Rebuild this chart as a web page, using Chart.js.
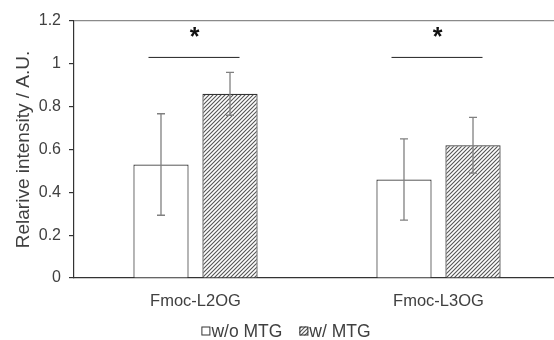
<!DOCTYPE html>
<html>
<head>
<meta charset="utf-8">
<script src="https://cdn.jsdelivr.net/npm/chart.js@4.4.1/dist/chart.umd.min.js"></script>
<style>
    html, body { margin: 0; padding: 0; background: #fff; }
    #wrap { width: 554px; height: 340px; overflow: hidden; }
</style>
</head>
<body>
<div id="wrap"><canvas id="intensityChart" width="560" height="340"></canvas></div>
<script>
// data
const categories = ['Fmoc-L2QG', 'Fmoc-L3QG'];
const withoutMtg = [0.53, 0.46];
const withoutMtgErr = [0.237, 0.19];
const withMtg = [0.86, 0.62];
const withMtgErr = [0.10, 0.13];
const yTicks = [0, 0.2, 0.4, 0.6, 0.8, 1, 1.2];
const sigLevel = [1.03, 1.03];
const sigMarks = ['*', '*'];

document.addEventListener('DOMContentLoaded', function () {
    const textColor = '#404040';
    const fontFamily = '"Liberation Sans", Arial, sans-serif';

    // diagonal hatch for the "w/ MTG" bars
    function makeHatch() {
        const size = 4;
        const c = document.createElement('canvas');
        c.width = size;
        c.height = size;
        const g = c.getContext('2d');
        g.fillStyle = '#ffffff';
        g.fillRect(0, 0, size, size);
        g.strokeStyle = '#555555';
        g.lineWidth = 1.1;
        g.beginPath();
        g.moveTo(-1, size + 1);
        g.lineTo(size + 1, -1);
        g.moveTo(-1, 1);
        g.lineTo(1, -1);
        g.moveTo(size - 1, size + 1);
        g.lineTo(size + 1, size - 1);
        g.stroke();
        return g.createPattern(c, 'repeat');
    }

    const hatch = makeHatch();

    // error bars drawn from the err arrays through the y scale
    const errorBars = {
        id: 'errorBars',
        afterDatasetsDraw(chart) {
            const ctx = chart.ctx;
            const y = chart.scales.y;
            ctx.save();
            ctx.strokeStyle = '#808080';
            ctx.lineWidth = 1.3;
            chart.data.datasets.forEach(function (ds, di) {
                const meta = chart.getDatasetMeta(di);
                meta.data.forEach(function (bar, i) {
                    const v = ds.data[i];
                    const e = ds.errors[i];
                    const top = y.getPixelForValue(v + e);
                    const bot = y.getPixelForValue(v - e);
                    ctx.beginPath();
                    ctx.moveTo(bar.x, top);
                    ctx.lineTo(bar.x, bot);
                    ctx.moveTo(bar.x - 4, top);
                    ctx.lineTo(bar.x + 4, top);
                    ctx.moveTo(bar.x - 4, bot);
                    ctx.lineTo(bar.x + 4, bot);
                    ctx.stroke();
                });
            });
            ctx.restore();
        }
    };

    // significance lines and asterisks over each group
    const significance = {
        id: 'significance',
        afterDatasetsDraw(chart) {
            const ctx = chart.ctx;
            const x = chart.scales.x;
            const y = chart.scales.y;
            ctx.save();
            categories.forEach(function (cat, i) {
                const cx = x.getPixelForValue(i);
                const ly = y.getPixelForValue(sigLevel[i]);
                ctx.strokeStyle = '#222';
                ctx.lineWidth = 1;
                ctx.beginPath();
                ctx.moveTo(cx - 47, ly);
                ctx.lineTo(cx + 44, ly);
                ctx.stroke();
                ctx.fillStyle = '#111';
                ctx.font = 'bold 25px ' + fontFamily;
                ctx.textAlign = 'center';
                ctx.textBaseline = 'middle';
                ctx.fillText(sigMarks[i], cx - 1, ly - 19);
            });
            ctx.restore();
        }
    };

    // compact legend under the axis: small box right against its text
    const compactLegend = {
        id: 'compactLegend',
        afterDraw(chart) {
            const ctx = chart.ctx;
            const box = 9;
            const gap = 17;
            const yMid = 331;
            ctx.save();
            ctx.font = '17.5px ' + fontFamily;
            const items = chart.data.datasets.map(function (ds) {
                return { ds: ds, w: box + 1 + ctx.measureText(ds.label).width };
            });
            const total = items.reduce(function (s, it) { return s + it.w; }, 0) + gap * (items.length - 1);
            let x = chart.width / 2 + 6 - total / 2;
            items.forEach(function (it) {
                ctx.fillStyle = it.ds.backgroundColor;
                ctx.fillRect(x, yMid - box / 2, box, box);
                ctx.strokeStyle = '#333333';
                ctx.lineWidth = 1;
                ctx.strokeRect(x + 0.5, yMid - box / 2 + 0.5, box - 1, box - 1);
                ctx.fillStyle = textColor;
                ctx.textAlign = 'left';
                ctx.textBaseline = 'middle';
                ctx.fillText(it.ds.label, x + box + 1, yMid + 1);
                x += it.w + gap;
            });
            ctx.restore();
        }
    };

    const ctxIntensity = document.getElementById('intensityChart').getContext('2d');
    new Chart(ctxIntensity, {
        type: 'bar',
        data: {
            labels: categories,
            datasets: [{
                label: 'w/o MTG',
                data: withoutMtg,
                errors: withoutMtgErr,
                backgroundColor: '#ffffff',
                borderColor: '#333333',
                borderWidth: 1.2
            }, {
                label: 'w/ MTG',
                data: withMtg,
                errors: withMtgErr,
                backgroundColor: hatch,
                borderColor: '#333333',
                borderWidth: 1.2
            }]
        },
        options: {
            responsive: false,
            animation: false,
            categoryPercentage: 0.568,
            barPercentage: 0.8,
            layout: {
                padding: { left: 0, top: 21, right: 0, bottom: 34 }
            },
            scales: {
                x: {
                    grid: { display: false, drawTicks: false },
                    border: { color: '#333333', width: 1.2 },
                    ticks: {
                        color: textColor,
                        padding: 14,
                        font: { family: fontFamily, size: 16.5 }
                    },
                    afterFit: function (scale) { scale.height = 28; }
                },
                y: {
                    min: 0,
                    max: 1.2,
                    afterBuildTicks: function (scale) {
                        scale.ticks = yTicks.map(function (v) { return { value: v }; });
                    },
                    grid: {
                        drawOnChartArea: true,
                        color: function (c) {
                            return c.index === yTicks.length - 1 ? '#8a8a8a' : 'rgba(0,0,0,0)';
                        },
                        tickColor: '#333333',
                        tickLength: 5,
                        lineWidth: 1.2
                    },
                    border: { color: '#333333', width: 1.2 },
                    ticks: {
                        color: textColor,
                        padding: 8,
                        font: { family: fontFamily, size: 16 },
                        callback: function (value) { return String(value); }
                    },
                    title: {
                        display: true,
                        text: 'Relarive intensity / A.U.',
                        color: textColor,
                        padding: { top: 12, bottom: 0 },
                        font: { family: fontFamily, size: 19 }
                    },
                    afterFit: function (scale) { scale.width = 74; }
                }
            },
            plugins: {
                legend: { display: false },
                tooltip: { enabled: false }
            }
        },
        plugins: [errorBars, significance, compactLegend]
    });
});
</script>
</body>
</html>
